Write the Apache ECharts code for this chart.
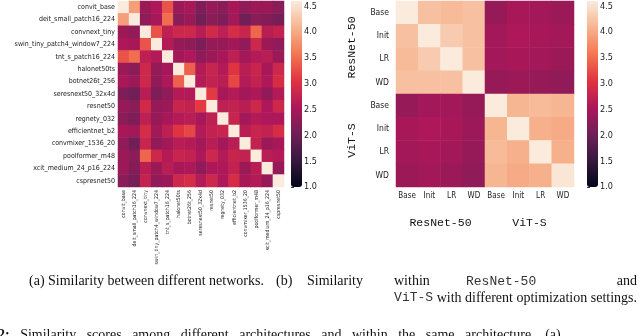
<!DOCTYPE html>
<html>
<head>
<meta charset="utf-8">
<script src="https://cdn.jsdelivr.net/npm/echarts@6/dist/echarts.min.js"></script>
<style>
html, body { margin: 0; padding: 0; background: #fff; }
#main { width: 640px; height: 336px; }
</style>
</head>
<body>
<div id="main"></div>
<script>
// (a) networks
var netNames = ['convit_base', 'deit_small_patch16_224', 'convnext_tiny', 'swin_tiny_patch4_window7_224',
  'tnt_s_patch16_224', 'halonet50ts', 'botnet26t_256', 'seresnext50_32x4d', 'resnet50', 'regnety_032',
  'efficientnet_b2', 'convmixer_1536_20', 'poolformer_m48', 'xcit_medium_24_p16_224', 'cspresnet50'];
var netScores = [
  [4.6, 3.9, 2.4, 2.55, 3.3, 2.4, 2.5, 2.15, 2.35, 2.25, 2.5, 2.3, 2.4, 2.4, 2.25],
  [3.9, 4.6, 2.3, 2.5, 3.5, 2.25, 2.4, 2.05, 2.25, 2.15, 2.45, 2.05, 2.25, 2.2, 2.1],
  [2.4, 2.3, 4.6, 3.3, 2.7, 2.85, 2.85, 2.65, 2.9, 2.7, 2.95, 2.8, 3.45, 2.65, 2.75],
  [2.55, 2.5, 3.3, 4.6, 2.6, 2.35, 2.3, 2.15, 2.35, 2.35, 2.45, 2.3, 2.85, 2.4, 2.3],
  [3.3, 3.5, 2.7, 2.6, 4.6, 2.45, 2.55, 2.3, 2.4, 2.5, 2.7, 2.45, 2.6, 2.65, 2.4],
  [2.4, 2.25, 2.85, 2.35, 2.45, 4.6, 3.4, 2.6, 2.8, 2.6, 3.05, 2.65, 2.8, 2.5, 2.85],
  [2.5, 2.4, 2.85, 2.3, 2.55, 3.4, 4.6, 2.6, 2.75, 2.65, 3.2, 2.6, 2.75, 2.55, 2.95],
  [2.15, 2.05, 2.65, 2.15, 2.3, 2.6, 2.6, 4.6, 3.1, 2.5, 2.6, 2.45, 2.55, 2.3, 2.6],
  [2.35, 2.25, 2.9, 2.35, 2.4, 2.8, 2.75, 3.1, 4.6, 2.7, 2.75, 2.65, 2.85, 2.55, 2.85],
  [2.25, 2.15, 2.7, 2.35, 2.5, 2.6, 2.65, 2.5, 2.7, 4.6, 2.8, 2.45, 2.6, 2.55, 2.55],
  [2.5, 2.45, 2.95, 2.45, 2.7, 3.05, 3.2, 2.6, 2.75, 2.8, 4.6, 2.65, 2.8, 2.75, 2.95],
  [2.3, 2.05, 2.8, 2.3, 2.45, 2.65, 2.6, 2.45, 2.65, 2.45, 2.65, 4.6, 2.75, 2.4, 2.5],
  [2.4, 2.25, 3.45, 2.85, 2.6, 2.8, 2.75, 2.55, 2.85, 2.6, 2.8, 2.75, 4.6, 2.65, 2.6],
  [2.4, 2.2, 2.65, 2.4, 2.65, 2.5, 2.55, 2.3, 2.55, 2.55, 2.75, 2.4, 2.65, 4.6, 2.35],
  [2.25, 2.1, 2.75, 2.3, 2.4, 2.85, 2.95, 2.6, 2.85, 2.55, 2.95, 2.5, 2.6, 2.35, 4.6]
];

// (b) optimization settings
var settingNames = ['Base', 'Init', 'LR', 'WD', 'Base', 'Init', 'LR', 'WD'];
var groupNames = ['ResNet-50', 'ViT-S'];
var settingScores = [
  [4.6, 4.2, 4.15, 4.2, 2.35, 2.5, 2.45, 2.4],
  [4.2, 4.6, 4.3, 4.2, 2.45, 2.55, 2.5, 2.45],
  [4.15, 4.3, 4.6, 4.2, 2.45, 2.5, 2.45, 2.4],
  [4.2, 4.2, 4.2, 4.6, 2.35, 2.4, 2.35, 2.3],
  [2.35, 2.45, 2.45, 2.35, 4.6, 4.1, 4.15, 4.1],
  [2.5, 2.55, 2.5, 2.4, 4.1, 4.6, 4.05, 4.0],
  [2.45, 2.5, 2.45, 2.35, 4.15, 4.05, 4.6, 4.05],
  [2.4, 2.45, 2.4, 2.3, 4.1, 4.0, 4.05, 4.55]
];

var cbTicks = [1.0, 1.5, 2.0, 2.5, 3.0, 3.5, 4.0, 4.5];
var vMin = 1.0, vMax = 4.6;

var rocket = ['#03051a', '#35193e', '#701f57', '#ad1759', '#e13342', '#f37651', '#f6b48f', '#faebdd'];
var sans = '"DejaVu Sans Condensed", "DejaVu Sans", sans-serif';
var mono = '"Liberation Mono", monospace';
var serif = '"Liberation Serif", serif';

function cells(m) {
  var out = [];
  for (var i = 0; i < m.length; i++) {
    for (var j = 0; j < m[i].length; j++) {
      out.push([j, i, m[i][j]]);
    }
  }
  return out;
}

var chartDom = document.getElementById('main');
var myChart = echarts.init(chartDom);
var option;

var noLine = { show: false };

function cbAxis(grid) {
  return {
    gridIndex: grid, type: 'value', position: 'right', min: vMin, max: vMax,
    axisLine: noLine, splitLine: noLine,
    axisTick: { show: true, length: 3, customValues: cbTicks, lineStyle: { color: '#333' } },
    axisLabel: { customValues: cbTicks, margin: 2, fontSize: 9, fontFamily: sans, color: '#222',
      formatter: function (v) { return v.toFixed(1); } }
  };
}

option = {
  animation: false,
  grid: [
    { left: 118, top: 1, width: 166, height: 186 },
    { left: 396, top: 1, width: 178, height: 186 },
    { left: 291, top: 1, width: 11, height: 186 },
    { left: 587, top: 1, width: 11, height: 186 }
  ],
  xAxis: [
    { gridIndex: 0, type: 'category', data: netNames, position: 'bottom',
      axisLine: noLine, axisTick: noLine, splitArea: noLine,
      axisLabel: { rotate: 90, interval: 0, margin: 3, fontSize: 5.2, fontFamily: sans, color: '#222' } },
    { gridIndex: 1, type: 'category', data: settingNames, position: 'bottom',
      axisLine: noLine, axisTick: noLine,
      axisLabel: { interval: 0, margin: 5, fontSize: 8, fontFamily: sans, color: '#222' } },
    { gridIndex: 1, type: 'category', data: groupNames, position: 'bottom', offset: 22,
      axisLine: noLine, axisTick: noLine,
      axisLabel: { interval: 0, fontSize: 11.5, fontFamily: mono, color: '#111' } },
    { gridIndex: 2, type: 'value', show: false },
    { gridIndex: 3, type: 'value', show: false }
  ],
  yAxis: [
    { gridIndex: 0, type: 'category', data: netNames, inverse: true, position: 'left',
      axisLine: noLine, axisTick: noLine,
      axisLabel: { interval: 0, margin: 3, fontSize: 7, fontFamily: sans, color: '#222' } },
    { gridIndex: 1, type: 'category', data: settingNames, inverse: true, position: 'left',
      axisLine: noLine, axisTick: noLine,
      axisLabel: { interval: 0, margin: 7, fontSize: 8.5, fontFamily: sans, color: '#222' } },
    { gridIndex: 1, type: 'category', data: groupNames, inverse: true, position: 'left', offset: 30,
      axisLine: noLine, axisTick: noLine,
      axisLabel: { interval: 0, rotate: 90, fontSize: 11.5, fontFamily: mono, color: '#111' } },
    cbAxis(2),
    cbAxis(3)
  ],
  visualMap: [
    { type: 'continuous', seriesIndex: 0, min: vMin, max: vMax, calculable: false,
      left: 291, top: 1, itemWidth: 11, itemHeight: 186, padding: 0, showLabel: false,
      inRange: { color: rocket } },
    { type: 'continuous', seriesIndex: 1, min: vMin, max: vMax, calculable: false,
      left: 587, top: 1, itemWidth: 11, itemHeight: 186, padding: 0, showLabel: false,
      inRange: { color: rocket } }
  ],
  series: [
    { type: 'heatmap', xAxisIndex: 0, yAxisIndex: 0, data: cells(netScores),
      itemStyle: { borderWidth: 0 }, emphasis: { disabled: true } },
    { type: 'heatmap', xAxisIndex: 1, yAxisIndex: 1, data: cells(settingScores),
      itemStyle: { borderWidth: 0 }, emphasis: { disabled: true } }
  ],
  graphic: [
    { type: 'text', left: 29, top: 274,
      style: { text: '(a) Similarity between different networks.', font: '14px ' + serif, fill: '#111' } },
    { type: 'text', left: 276, top: 274,
      style: { text: '(b)', font: '14px ' + serif, fill: '#111' } },
    { type: 'text', left: 307, top: 274,
      style: { text: 'Similarity', font: '14px ' + serif, fill: '#111' } },
    { type: 'text', left: 394, top: 274,
      style: { text: 'within', font: '14px ' + serif, fill: '#111' } },
    { type: 'text', left: 466, top: 275,
      style: { text: 'ResNet-50', font: '13px ' + mono, fill: '#333' } },
    { type: 'text', right: 3, top: 274,
      style: { text: 'and', font: '14px ' + serif, fill: '#111' } },
    { type: 'text', right: 3, top: 291,
      style: { rich: { m: { font: '13px ' + mono, fill: '#333' }, s: { font: '14px ' + serif, fill: '#111' } },
        text: '{m|ViT-S}{s| with different optimization settings.}' } },
    { type: 'text', left: -2, top: 328,
      style: { rich: { b: { font: 'bold 14px ' + serif, fill: '#111' }, s: { font: '14px ' + serif, fill: '#111' } },
        text: '{b|2:}{s|   Similarity   scores   among   different   architectures   and   within   the   same   architecture.   (a)}' } }
  ]
};
myChart.setOption(option);
</script>
</body>
</html>
